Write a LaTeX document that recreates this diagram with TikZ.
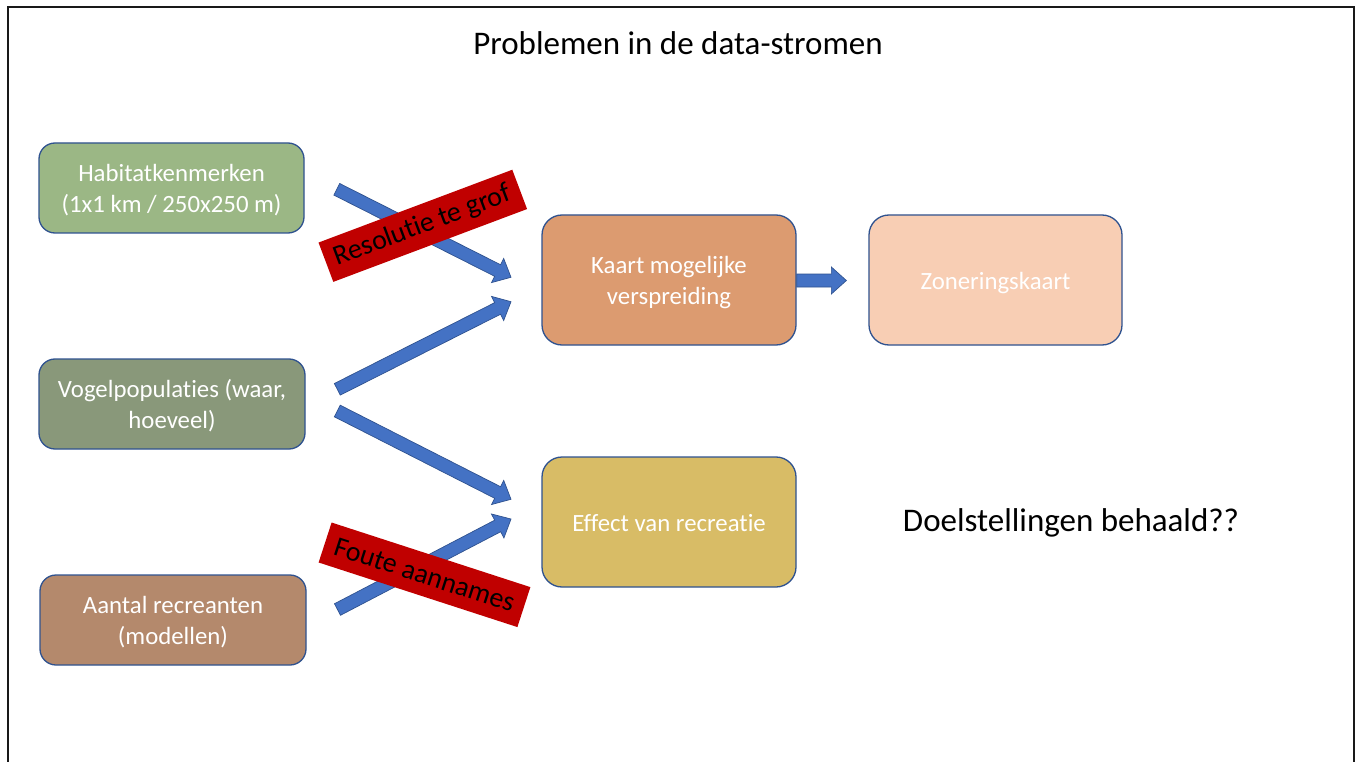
\documentclass[tikz,border=0pt]{standalone}
\usepackage{fontspec}
\setmainfont{Carlito}[RawFeature={-liga;-clig;-calt;-dlig}]
\usetikzlibrary{calc}
\definecolor{bordercol}{HTML}{2F528F}
\definecolor{arrowblue}{HTML}{4472C4}
\definecolor{labelred}{HTML}{C00000}
\definecolor{habcol}{HTML}{9BB785}
\definecolor{vogcol}{HTML}{89987A}
\definecolor{aancol}{HTML}{B4896C}
\definecolor{kaartcol}{HTML}{DC9B70}
\definecolor{zoncol}{HTML}{F8CEB4}
\definecolor{effcol}{HTML}{D8BC66}
\tikzset{
  boxsmall/.style={draw=bordercol, line width=1.3pt, rounded corners=16pt,
    minimum width=265pt, minimum height=90pt, inner sep=0pt, text=white,
    align=center, font=\fontsize{24.8}{30.5}\selectfont},
  boxbig/.style={boxsmall, rounded corners=20pt, minimum width=254pt, minimum height=130pt},
  redlabel/.style={fill=labelred, inner sep=0pt, minimum height=42pt,
    font=\fontsize{28}{32}\selectfont, text=black},
  bigarrow/.style={fill=arrowblue, draw=bordercol, line width=0.7pt, line join=miter},
  plaintext/.style={font=\fontsize{33}{38}\selectfont, text=black, inner sep=0pt}
}
\newcommand\fatarrow[2]{%
  \path let \p1=($(#2)-(#1)$) in \pgfextra{%
    \pgfmathsetmacro\myfa{atan2(\y1,\x1)}%
    \pgfmathsetmacro\myfl{veclen(\x1,\y1)}%
    \global\let\myfaG\myfa\global\let\myflG\myfl};
  \begin{scope}[shift={(#1)},rotate=\myfaG]
    \draw[bigarrow] (0pt,6.5pt) -- ({\myflG pt-15pt},6.5pt) -- ({\myflG pt-15pt},13.5pt)
      -- (\myflG pt,0pt) -- ({\myflG pt-15pt},-13.5pt) -- ({\myflG pt-15pt},-6.5pt)
      -- (0pt,-6.5pt) -- cycle;
  \end{scope}}
\newcommand\dn[1]{\raisebox{-3pt}[\height][\depth]{\begin{tabular}{@{}c@{}}#1\end{tabular}}}
\begin{document}
\begin{tikzpicture}[x=1pt,y=-1pt]
\useasboundingbox (0,0) rectangle (1355,762);
\clip (0,0) rectangle (1355,762);
\fill[white] (0,0) rectangle (1355,762);
\draw[line width=2pt, black!90] (7.5,7.5) rectangle (1353.5,800);

\node[plaintext] (title) at (678,43) {Problemen in de data-stromen};
\node[plaintext] (doel) at (1071,523) {Doelstellingen behaald??};

\node[boxsmall, fill=habcol] (hab) at (171.5,188) {\dn{Habitatkenmerken\\(1x1 km / 250x250 m)}};
\node[boxsmall, fill=vogcol, minimum width=266pt] (vog) at (172,404) {\dn{Vogelpopulaties (waar,\\hoeveel)}};
\node[boxsmall, fill=aancol, minimum width=266pt] (aan) at (173,620) {\dn{Aantal recreanten\\(modellen)}};
\node[boxbig, fill=kaartcol] (kaart) at (669,280) {\dn{Kaart mogelijke\\verspreiding}};
\node[boxbig, fill=zoncol, minimum width=253pt] (zon) at (995.5,280) {\dn{Zoneringskaart}};
\node[boxbig, fill=effcol] (eff) at (669,522) {\dn{Effect van recreatie}};

\coordinate (t1) at (336.8,189.3); \coordinate (h1) at (511,277.3);
\coordinate (t2) at (337.3,389.3); \coordinate (h2) at (511,301.7);
\coordinate (t3) at (337.3,411);   \coordinate (h3) at (511,499.3);
\coordinate (t4) at (337.5,609.5); \coordinate (h4) at (511,519);
\coordinate (t5) at ($(kaart.east)+(0,0.5)$); \coordinate (h5) at ($(zon.west)+(-22,0.5)$);

\fatarrow{t1}{h1}
\fatarrow{t2}{h2}
\fatarrow{t3}{h3}
\fatarrow{t4}{h4}
\fatarrow{t5}{h5}

\node[redlabel, minimum width=207pt, rotate=20.6] (res) at (422.8,225.8) {Resolutie te grof};
\node[redlabel, minimum width=209pt, rotate=-18] (fout) at (424.5,574.8) {Foute aannames};
\end{tikzpicture}
\end{document}
